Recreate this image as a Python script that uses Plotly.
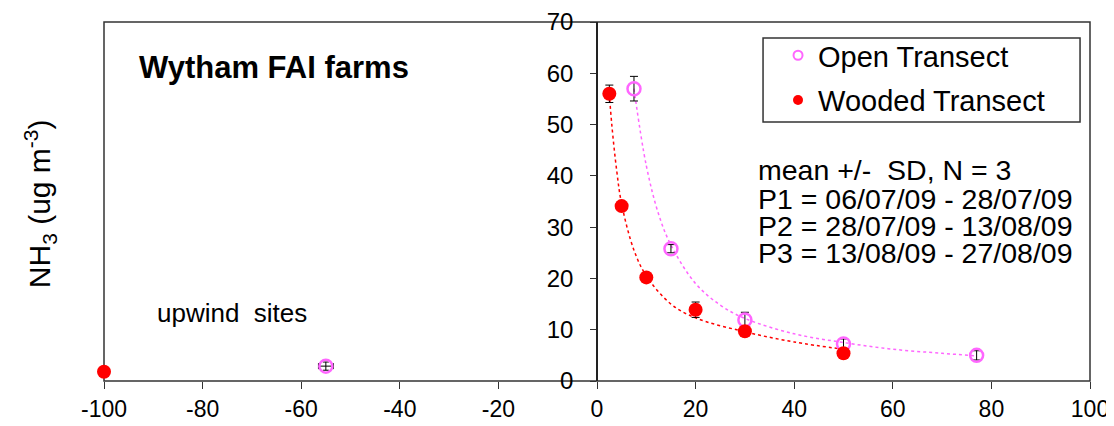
import plotly.graph_objects as go

# ---- data ----
open_x = [7.5, 15, 30, 50, 77]
open_y = [57.0, 25.8, 11.9, 7.2, 5.0]
open_err = [2.4, 0.8, 1.5, 1.0, 0.9]

open_up_x = [-55]
open_up_y = [2.9]
open_up_err = [0.8]
open_up_xerr = [1.5]

wood_x = [-100, 2.5, 5, 10, 20, 30, 50]
wood_y = [1.8, 56.0, 34.1, 20.2, 13.9, 9.7, 5.4]
wood_err = [0.3, 1.7, 0.6, 0.8, 1.5, 0.7, 0.6]

# fitted trend curves
open_fit_x = [7.5, 10, 12.5, 15, 20, 25, 30, 40, 50, 60, 70, 77]
open_fit_y = [57.0, 42.0, 32.5, 26.5, 19.0, 14.8, 12.2, 9.2, 7.5, 6.2, 5.4, 4.9]
wood_fit_x = [2.5, 3, 4, 5, 7.5, 10, 15, 20, 30, 40, 50]
wood_fit_y = [56.0, 50.0, 41.0, 34.5, 25.5, 20.5, 15.0, 12.3, 9.6, 7.6, 6.2]

x_ticks = [-100, -80, -60, -40, -20, 0, 20, 40, 60, 80, 100]
x_tick_text = ["-100", "-80", "-60", "-40", "-20", "0", "20", "40", "60", "80", "100"]
y_ticks = [0, 10, 20, 30, 40, 50, 60, 70]

stats_lines = ["mean +/-  SD, N = 3",
               "P1 = 06/07/09 - 28/07/09",
               "P2 = 28/07/09 - 13/08/09",
               "P3 = 13/08/09 - 27/08/09"]
stats_y = [41.2, 35.4, 30.2, 25.0]

MAG = "#FF66FF"
RED = "#FF0000"
FONT = "Arial, Liberation Sans, sans-serif"

fig = go.Figure()

fig.add_trace(go.Scatter(x=open_fit_x, y=open_fit_y, mode="lines", line_shape="spline",
                         line=dict(color=MAG, width=1.5, dash="dot"), showlegend=False,
                         hoverinfo="skip"))
fig.add_trace(go.Scatter(x=wood_fit_x, y=wood_fit_y, mode="lines", line_shape="spline",
                         line=dict(color=RED, width=1.5, dash="dot"), showlegend=False,
                         hoverinfo="skip"))

fig.add_trace(go.Scatter(x=open_x, y=open_y, mode="markers", showlegend=False, cliponaxis=False,
                         marker=dict(symbol="circle-open", size=13, color=MAG, line=dict(width=2.5, color=MAG)),
                         error_y=dict(type="data", array=open_err, color="black", thickness=1, width=4)))
fig.add_trace(go.Scatter(x=open_up_x, y=open_up_y, mode="markers", showlegend=False, cliponaxis=False,
                         marker=dict(symbol="circle-open", size=13, color=MAG, line=dict(width=2.5, color=MAG)),
                         error_y=dict(type="data", array=open_up_err, color="black", thickness=1, width=3),
                         error_x=dict(type="data", array=open_up_xerr, color="black", thickness=1, width=3)))
fig.add_trace(go.Scatter(x=wood_x, y=wood_y, mode="markers", showlegend=False, cliponaxis=False,
                         marker=dict(symbol="circle", size=14, color=RED),
                         error_y=dict(type="data", array=wood_err, color="black", thickness=1, width=4)))

# legend entries
fig.add_trace(go.Scatter(x=[None], y=[None], mode="markers", name="Open Transect", legendgroup="a",
                         marker=dict(symbol="circle-open", size=9, color=MAG, line=dict(width=2, color=MAG))))
fig.add_trace(go.Scatter(x=[None], y=[None], mode="markers", name="Wooded Transect",
                         legendgroup="b", marker=dict(symbol="circle", size=10, color=RED)))

annotations = [
    dict(text="NH<sub>3</sub> (ug m<sup>-3</sup>)", xref="paper", yref="paper",
         x=-0.065, y=0.495, xanchor="center", yanchor="middle", textangle=-90, showarrow=False,
         font=dict(size=30, family=FONT)),
    dict(text="<b>Wytham FAI farms</b>", xref="x", yref="y", x=-93.3, y=61.2,
         xanchor="left", yanchor="middle", showarrow=False, font=dict(size=31, family=FONT)),
    dict(text="upwind  sites", xref="x", yref="y", x=-89.7, y=13.3,
         xanchor="left", yanchor="middle", showarrow=False, font=dict(size=26, family=FONT)),
]
for t, yy in zip(stats_lines, stats_y):
    annotations.append(dict(text=t, xref="x", yref="y", x=32.2, y=yy, xanchor="left",
                            yanchor="middle", align="left", showarrow=False,
                            font=dict(size=28.5, family=FONT)))

fig.update_layout(
    width=1106, height=418,
    margin=dict(l=96, r=24, t=14, b=45, autoexpand=False),
    paper_bgcolor="white", plot_bgcolor="white",
    font=dict(family=FONT, color="black", size=23),
    showlegend=True,
    legend=dict(x=0.6836, y=0.978, xanchor="left", yanchor="top",
                borderwidth=0, bgcolor="rgba(0,0,0,0)",
                font=dict(size=29, family=FONT, color="black"),
                tracegroupgap=4, itemwidth=30),
    xaxis=dict(range=[-100, 100], tickvals=x_ticks, ticktext=x_tick_text, ticks="outside", ticklen=7,
               tickcolor="#333333", showgrid=False, zeroline=False, showline=False,
               automargin=False, tickfont=dict(size=23, family=FONT)),
    yaxis=dict(range=[0, 70], tickvals=y_ticks, ticks="outside", ticklen=6,
               tickcolor="#333333", showgrid=False, zeroline=False, showline=True,
               linecolor="#222222", linewidth=1.5, anchor="free", position=0.5,
               automargin=False, ticklabelstandoff=12,
               tickfont=dict(size=24, family=FONT)),
    shapes=[
        dict(type="rect", xref="paper", yref="paper", x0=0, x1=1, y0=0, y1=1,
             line=dict(color="#333333", width=1.5), layer="below"),
        dict(type="rect", xref="paper", yref="paper", x0=0.6684, x1=0.9899, y0=0.7214, y1=0.9554,
             line=dict(color="#333333", width=1.5), fillcolor="white", layer="below"),
    ],
    annotations=annotations,
)

fig.write_html("out.html")
